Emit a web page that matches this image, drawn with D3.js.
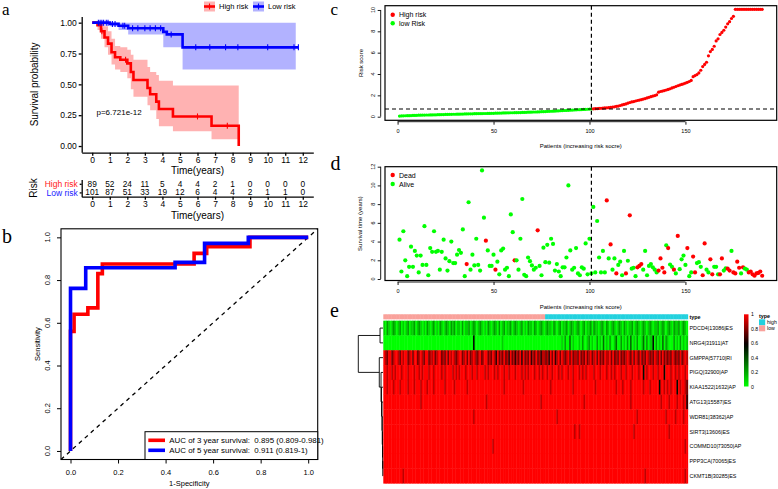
<!DOCTYPE html>
<html><head><meta charset="utf-8">
<script src="https://cdn.jsdelivr.net/npm/d3@7/dist/d3.min.js"></script>
<style>html,body{margin:0;padding:0;background:#fff;} svg{display:block;}</style>
</head><body>
<script>
// ================= DATA =================
// Panel a: Kaplan-Meier (step points)
const highTime  = [0,0.3,0.5,0.7,0.9,1.1,1.3,1.6,2.0,2.2,2.35,3.15,3.3,3.65,3.8,4.6,6.8,8.35];
const highSurv  = [1,0.98,0.93,0.88,0.83,0.76,0.72,0.70,0.67,0.60,0.535,0.47,0.42,0.36,0.30,0.24,0.165,0];
const highLower = [1,0.94,0.87,0.80,0.74,0.66,0.62,0.60,0.55,0.46,0.40,0.33,0.29,0.22,0.16,0.12,0.055,0.055];
const highUpper = [1,1,1,0.97,0.93,0.87,0.81,0.80,0.78,0.74,0.70,0.64,0.60,0.575,0.53,0.49,0.49,0.49];
const lowTime   = [0,1.0,1.5,2.05,4.05,4.25,5.15,11.75];
const lowSurv   = [1,0.99,0.975,0.955,0.925,0.905,0.80,0.80];
const lowLower  = [1,0.97,0.94,0.905,0.80,0.80,0.62,0.62];
const lowUpper  = [1,1,1,1,1,1,1,1];
const lowBandEnd = 11.6;
const highCensor = [0.55,1.9,6.0,7.7];
const lowCensor  = [0.35,0.45,0.55,0.65,0.8,0.9,1.15,1.3,1.75,1.85,2.3,2.6,3.0,3.3,3.6,3.9,4.5,5.9,6.7,7.6,8.3,10.0,11.5,11.75];
const pValueText = "p=6.721e-12";
const timeTicks  = [0,1,2,3,4,5,6,7,8,9,10,11,12];
const highAtRisk = [89,52,24,11,5,4,4,2,1,0,0,0,0];
const lowAtRisk  = [101,87,51,33,19,12,6,4,4,2,1,1,0];

// Panel b: ROC
const roc3FPR = [0,0,0.015,0.015,0.073,0.073,0.115,0.115,0.134,0.134,0.52,0.52,0.573,0.573,0.755,0.755,1];
const roc3TPR = [0,0.56,0.56,0.64,0.64,0.67,0.67,0.83,0.83,0.875,0.875,0.925,0.925,0.956,0.956,1,1];
const roc5FPR = [0,0,0.064,0.064,0.44,0.44,0.564,0.564,0.748,0.748,1];
const roc5TPR = [0,0.761,0.761,0.858,0.858,0.883,0.883,0.972,0.972,1,1];
const rocLabels = ["AUC of 3 year survival:  0.895 (0.809-0.981)","AUC of 5 year survival:  0.911 (0.819-1)"];
const rocTicks = [0,0.2,0.4,0.6,0.8,1.0];

// Panel c: risk scores (sorted)
const riskLowScore = [0.06,0.07,0.08,0.09,0.10,0.10,0.11,0.12,0.12,0.13,
 0.14,0.14,0.15,0.15,0.16,0.16,0.17,0.17,0.18,0.18,
 0.19,0.19,0.20,0.20,0.21,0.21,0.22,0.22,0.23,0.23,
 0.24,0.24,0.25,0.25,0.26,0.26,0.27,0.27,0.27,0.28,
 0.28,0.29,0.29,0.29,0.30,0.30,0.31,0.31,0.32,0.32,
 0.33,0.33,0.34,0.34,0.35,0.35,0.36,0.36,0.37,0.37,
 0.38,0.38,0.39,0.39,0.40,0.40,0.41,0.42,0.42,0.43,
 0.44,0.44,0.45,0.46,0.47,0.47,0.48,0.49,0.50,0.51,
 0.52,0.53,0.54,0.55,0.56,0.57,0.58,0.59,0.60,0.61,
 0.62,0.63,0.64,0.65,0.66,0.67,0.68,0.69,0.70,0.71,0.72];
const riskHighScore = [0.74,0.75,0.76,0.78,0.79,0.80,0.82,0.83,0.85,0.87,
 0.90,0.93,0.97,1.00,1.05,1.10,1.15,1.20,1.27,1.33,
 1.38,1.42,1.47,1.52,1.56,1.60,1.65,1.70,1.76,1.82,
 1.88,1.93,1.98,2.05,2.30,2.36,2.40,2.45,2.50,2.56,
 2.62,2.70,2.76,2.83,2.90,2.96,3.02,3.08,3.15,3.22,
 3.30,3.40,3.75,3.85,3.95,4.10,4.35,4.70,4.90,5.10,
 5.70,6.10,6.30,6.60,7.10,7.30,7.70,7.90,8.10,8.40,
 8.70,8.90,9.20,9.40,10.06,10.06,10.06,10.06,10.06,10.06,
 10.06,10.06,10.06,10.06,10.06,10.06,10.06,10.06,10.06];
const riskCutoff = 0.72;
const patientTicks = [0,50,100,150];

// Panel d: survival time and status (1 = dead)
const survTime = [4.2,0.8,5.1,2.0,0.3,1.3,3.45,1.3,3.0,2.5,
 0.7,2.5,1.5,5.65,1.5,0.4,3.3,2.9,5.1,2.9,
 3.0,1.0,2.9,4.2,2.2,0.9,1.9,4.0,1.7,1.7,
 2.6,3.1,2.8,5.3,0.3,1.6,8.2,1.0,2.6,1.45,
 4.3,1.5,0.9,11.6,6.55,4.1,3.05,1.4,1.4,2.6,
 1.0,1.85,0.5,3.05,3.25,1.0,1.2,0.3,6.9,5.0,
 2.0,2.0,1.0,4.3,8.55,0.45,0.3,2.3,1.9,1.45,
 1.0,1.2,5.2,1.4,0.4,3.35,1.8,3.65,1.75,4.3,
 3.75,0.9,1.6,0.8,0.3,1.25,1.25,2.3,10.0,3.05,
 1.0,1.2,3.3,0.6,0.4,1.25,1.1,3.8,0.5,4.3,
 0.6,7.7,0.7,6.2,2.3,0.7,3.0,0.7,8.4,2.2,
 3.7,1.0,2.2,0.6,1.5,1.85,0.4,3.0,0.6,1.95,
 6.8,1.1,1.2,0.3,1.25,1.4,1.6,1.0,3.0,0.4,
 1.4,1.6,1.25,1.0,0.7,0.9,2.2,1.2,0.7,3.6,
 3.3,1.55,1.3,1.0,0.6,4.6,1.05,2.1,2.5,1.5,
 3.3,0.3,0.7,2.4,0.7,1.7,1.8,1.3,0.4,3.8,
 1.0,0.7,2.1,0.5,1.3,1.3,0.5,0.5,2.2,0.9,
 1.15,1.1,0.9,3.0,0.7,0.6,1.85,1.2,0.6,1.25,
 1.1,1.0,0.7,0.8,0.5,0.35,0.6,0.65,0.8,0.35];
const survStatus = [0,0,0,0,0,0,0,0,0,0, 0,0,0,0,0,0,0,0,0,0, 0,0,0,0,0,0,0,0,0,0,
 0,0,0,0,0,1,0,0,0,0, 0,0,0,0,0,1,0,0,0,0, 1,0,0,0,0,0,0,0,0,0,
 1,0,0,0,0,0,0,0,0,0, 0,0,1,0,0,0,0,0,0,0, 0,0,0,0,0,0,0,0,0,0,
 0,0,0,0,0,0,0,0,0,0, 0,0,0,0,0,0,0,0,1,0, 1,0,0,1,0,0,0,0,1,0,
 1,0,0,0,1,1,1,0,0,0, 0,0,0,0,0,1,1,1,1,0, 1,0,0,1,0,1,0,0,0,0,
 1,0,0,1,1,0,0,0,1,1, 0,0,1,1,0,0,0,1,1,0, 0,1,1,0,1,1,1,1,0,1,
 0,0,1,1,1,1,1,1,1,1];
const survTicks = [0,2,4,6,8,10,12];

// Panel e: heatmap (digit d -> value d/9), columns ordered by risk score
const geneNames = ["PDCD4|13086|ES","NRG4|31911|AT","GMPPA|57710|RI","PIGQ|32900|AP","KIAA1522|1632|AP","ATG13|15587|ES","WDR81|38362|AP","SIRT3|13606|ES","COMMD10|73050|AP","PPP3CA|70065|ES","CKMT1B|30285|ES"];
const heatRows = [
 ["1021012101","2010120112","0121010210","1201021012","1021201102","0112012101","2101021012","1020120112","0121012010","2110210121","0121102101","2011201210","1210120112","0211012102","1012101210","2101120121","0121012101","1201210121","0211201210"],
 ["0000000000","0000000000","0000000000","0000000000","0000000000","0000005000","0000000000","0000100000","0000000000","0000000000","0000000000","0102003010","0010200120","1002010301","0200130020","1020301020","0130201150","2010302100","0201020101"],
 ["9879978998","7989978979","9789879978","8978997879","7989878997","8979789878","9789978798","6978797869","7868796978","7968797868","8786979689","7987897978","8797879789","7897978798","8979787978","7898797987","9787987879","8797978787","9878797898"],
 ["9989989899","9899989998","9989899989","9899998989","9998989899","9899989989","9998989998","9899989989","9989998989","8999899898","9989989998","9899989989","9989898999","9899989998","9989899989","9899989998","9959899989","9899959998","9989899989"],
 ["9989998999","8999989998","9998999899","9899999989","9999899999","9989999999","9999999999","9999989999","9999999899","9999999999","9999899999","9999999989","9999999999","9989999999","9999989998","9999899999","9989998999","9959989898","9995989987"],
 ["9999999999","9999999999","9998999999","9999999999","9999999999","9999999999","9999899999","9999999999","9999999999","9999999989","9999999999","9999999999","9999989999","9999999999","9999999999","9999899999","9999999999","9998999989","9998999896"],
 ["9999999999","9999999999","9999999999","9999999999","9999999999","9999998999","9999999999","9999999999","9999999999","9999999999","9999999989","9999999999","9999999999","9999999999","9999999999","9999999989","9999999999","9999998999","9989999899"],
 ["9999999999","9999999999","9999999999","9999999999","9999999999","9999999999","9999999999","9999999999","9999999999","9999999999","9999999999","9999999998","9989999999","9999999999","9999999999","9999998999","9999999999","9999999989","9999999999"],
 ["9999999999","9999999999","9999999999","9999999999","9999999999","9999999999","9999999989","9999999999","9999999999","9999999999","9999999999","9999999999","9999999999","9999999999","9999999999","9999999999","9999999999","9999999999","9999999989"],
 ["9999999999","9999999999","9999999999","9999999999","9999999999","9999999999","9999999999","9999999999","9999999999","9999999999","9999999999","9999999999","9999999999","9999999999","9999999999","9999999999","9999999999","9999999999","9999999999"],
 ["9999999999","9989999999","9999999999","9999999999","9999999999","9999999999","9999999999","9999999999","9999999999","9999999999","9999999999","9999999999","9999999999","9999999999","9999999999","9999999999","9998999999","9999999999","9999999989"]
];
// hclust-style merges: [a, b, height]; negative = leaf (1-based row), positive = earlier merge
const dendroMerges = [[-10,-11,0.01],[-9,1,0.015],[-8,2,0.02],[-7,3,0.03],[-6,4,0.04],[-5,5,0.06],[-4,6,0.08],[-3,7,0.15],[-1,-2,0.12],[9,8,1.0]];
const legendTicks = [0,0.2,0.4,0.6,0.8,1];
const typeLevels = ["high","low"];
const typeColors = ["#22D1DE","#F9A19B"];

// ================= DRAW =================
const SANS = '"Liberation Sans", Arial, Helvetica, sans-serif';
const SERIF = '"Liberation Serif", "Times New Roman", serif';
const svg = d3.select("body").append("svg").attr("width",778).attr("height",489).attr("font-family",SANS);
const RED="#ff0000", BLUE="#0000ff", GREEN="#00ff00";

function label(x,y,s,o={}){
  const t = svg.append("text").attr("x",x).attr("y",y).text(s)
    .attr("font-size",o.size||8).attr("text-anchor",o.anchor||"middle")
    .attr("fill",o.color||"#000").attr("font-weight",o.weight||"normal")
    .attr("font-family",o.family||SANS).attr("dominant-baseline",o.baseline||"central");
  if (o.rotate) t.attr("transform",`rotate(${o.rotate},${x},${y})`);
  if (o.space) t.attr("xml:space","preserve").style("white-space","pre");
  return t;
}
function styleAxis(g,fs,sw){
  g.attr("font-size",fs).attr("font-family",SANS);
  g.selectAll("path,line").attr("stroke","#000").attr("stroke-width",sw||1);
  g.selectAll("text").attr("fill","#000");
}

// panel letters
label(2,15.4,"a",{size:17,anchor:"start",family:SERIF,baseline:"auto"});
label(2,243.3,"b",{size:20,anchor:"start",family:SERIF,baseline:"auto"});
label(330.5,15.4,"c",{size:17,anchor:"start",family:SERIF,baseline:"auto"});
label(330.5,170,"d",{size:20,anchor:"start",family:SERIF,baseline:"auto"});
label(330,316.7,"e",{size:20,anchor:"start",family:SERIF,baseline:"auto"});

// ---------- Panel a ----------
const aX = d3.scaleLinear().domain([-0.6,12.6]).range([81.7,313.3]);
const aY = d3.scaleLinear().domain([-0.05,1.05]).range([152.2,16.5]);
const bandArea = d3.area().curve(d3.curveStepAfter).x(d=>aX(d[0])).y0(d=>aY(d[1])).y1(d=>aY(d[2]));
const stepLine = d3.line().curve(d3.curveStepAfter).x(d=>aX(d[0])).y(d=>aY(d[1]));
const hiBand = highTime.map((t,i)=>[t,highLower[i],highUpper[i]]);
const loBand = lowTime.map((t,i)=>[i===lowTime.length-1?lowBandEnd:t,lowLower[i],lowUpper[i]]);
svg.append("path").attr("d",bandArea(hiBand)).attr("fill",RED).attr("fill-opacity",0.3);
svg.append("path").attr("d",bandArea(loBand)).attr("fill",BLUE).attr("fill-opacity",0.3);
function survAt(times,vals,t){let v=vals[0];for(let i=0;i<times.length;i++){if(times[i]<=t)v=vals[i];}return v;}
svg.append("path").attr("d",stepLine(highTime.map((t,i)=>[t,highSurv[i]]))).attr("fill","none").attr("stroke",RED).attr("stroke-width",2.6);
svg.append("path").attr("d",stepLine(lowTime.map((t,i)=>[t,lowSurv[i]]))).attr("fill","none").attr("stroke",BLUE).attr("stroke-width",2.6);
[[highCensor,highTime,highSurv,RED],[lowCensor,lowTime,lowSurv,BLUE]].forEach(([cs,tt,ss,col])=>{
  svg.append("g").selectAll("line").data(cs).join("line")
    .attr("x1",d=>aX(d)).attr("x2",d=>aX(d))
    .attr("y1",d=>aY(survAt(tt,ss,d))-3).attr("y2",d=>aY(survAt(tt,ss,d))+3)
    .attr("stroke",col).attr("stroke-width",1.1);
});
const axA = svg.append("g").attr("transform","translate(0,152.7)")
  .call(d3.axisBottom(aX).tickValues(timeTicks).tickFormat(d3.format("d")).tickSize(3).tickSizeOuter(0).tickPadding(1.5));
styleAxis(axA,8.5,1.3);
const ayA = svg.append("g").attr("transform","translate(81.7,0)")
  .call(d3.axisLeft(aY).tickValues([0,0.25,0.5,0.75,1]).tickFormat(d3.format(".2f")).tickSize(3).tickSizeOuter(0).tickPadding(2));
styleAxis(ayA,8.5,1.3);
label(197.5,170,"Time(years)",{size:10});
label(35,84.4,"Survival probability",{size:10,rotate:-90});
label(96.5,112.7,pValueText,{size:8,anchor:"start"});
// legend
[[RED,"High risk",204],[BLUE,"Low risk",253]].forEach(([col,txt,x0])=>{
  svg.append("rect").attr("x",x0).attr("y",1.5).attr("width",11).attr("height",10).attr("fill",col).attr("fill-opacity",0.3);
  svg.append("line").attr("x1",x0).attr("x2",x0+11).attr("y1",6.5).attr("y2",6.5).attr("stroke",col).attr("stroke-width",2.6);
  svg.append("line").attr("x1",x0+5.5).attr("x2",x0+5.5).attr("y1",3.5).attr("y2",9.5).attr("stroke",col).attr("stroke-width",1.1);
  label(x0+15,6.5,txt,{size:7.5,anchor:"start"});
});

// risk table
const rRow = d3.scalePoint().domain(["High risk","Low risk"]).range([179.5,196.7]).padding(0.5);
[[highAtRisk,"High risk"],[lowAtRisk,"Low risk"]].forEach(([arr,k])=>{
  svg.append("g").selectAll("text").data(arr).join("text")
    .attr("x",(d,i)=>aX(timeTicks[i])).attr("y",rRow(k)).text(d=>d)
    .attr("font-size",8.3).attr("text-anchor","middle").attr("dominant-baseline","central");
});
const rtX = svg.append("g").attr("transform","translate(0,196.7)")
  .call(d3.axisBottom(aX).tickValues(timeTicks).tickFormat(d3.format("d")).tickSize(3).tickSizeOuter(0).tickPadding(1.5));
styleAxis(rtX,8.5,1.3);
const rtY = svg.append("g").attr("transform","translate(81.7,0)")
  .call(d3.axisLeft(rRow).tickSize(2).tickSizeOuter(0).tickPadding(2));
styleAxis(rtY,8.5,1.3);
rtY.selectAll(".tick text").attr("fill",d=>d==="High risk"?"#ff2020":"#2020ff");
label(197.5,215.7,"Time(years)",{size:10});
label(33.3,188,"Risk",{size:10,rotate:-90});

// ---------- Panel b ----------
const bX = d3.scaleLinear().domain([-0.04,1.04]).range([61,317.7]);
const bY = d3.scaleLinear().domain([-0.04,1.04]).range([459.5,228.8]);
svg.append("line").attr("x1",bX(-0.04)).attr("y1",bY(-0.04)).attr("x2",bX(1.04)).attr("y2",bY(1.04))
  .attr("stroke","#000").attr("stroke-width",1.3).attr("stroke-dasharray","4,4");
const rocLine = d3.line().x(d=>bX(d[0])).y(d=>bY(d[1]));
svg.append("path").attr("d",rocLine(roc3FPR.map((f,i)=>[f,roc3TPR[i]]))).attr("fill","none").attr("stroke",RED).attr("stroke-width",3.6);
svg.append("path").attr("d",rocLine(roc5FPR.map((f,i)=>[f,roc5TPR[i]]))).attr("fill","none").attr("stroke",BLUE).attr("stroke-width",3.6);
svg.append("rect").attr("x",61).attr("y",228.8).attr("width",256.7).attr("height",230.7).attr("fill","none").attr("stroke","#000").attr("stroke-width",1.1);
const bxA = svg.append("g").attr("transform","translate(0,459.5)")
  .call(d3.axisBottom(bX).tickValues(rocTicks).tickFormat(d3.format(".1f")).tickSize(4).tickSizeOuter(0).tickPadding(6));
styleAxis(bxA,7.5,1); bxA.select(".domain").remove();
svg.append("line").attr("x1",bX(0)).attr("x2",bX(1)).attr("y1",459.5).attr("y2",459.5).attr("stroke","#000");
const byA = svg.append("g").attr("transform","translate(61,0)")
  .call(d3.axisLeft(bY).tickValues(rocTicks).tickFormat("").tickSize(4).tickSizeOuter(0));
styleAxis(byA,7.5,1); byA.select(".domain").remove();
svg.append("g").selectAll("text").data(rocTicks).join("text")
  .attr("x",48).attr("y",d=>bY(d)).attr("transform",d=>`rotate(-90,48,${bY(d)})`)
  .attr("text-anchor","middle").attr("dominant-baseline","central").attr("font-size",7.5).text(d3.format(".1f"));
label(189.3,483,"1-Specificity",{size:7.5});
label(37,344,"Sensitivity",{size:7.5,rotate:-90});
svg.append("rect").attr("x",145).attr("y",431.7).attr("width",172.7).attr("height",27.8).attr("fill","#fff").attr("stroke","#000").attr("stroke-width",1);
[[RED,rocLabels[0],440.3],[BLUE,rocLabels[1],450.3]].forEach(([col,txt,y])=>{
  svg.append("line").attr("x1",148.3).attr("x2",165).attr("y1",y).attr("y2",y).attr("stroke",col).attr("stroke-width",3.6);
  label(169.3,y,txt,{size:7.9,anchor:"start",space:true});
});

// ---------- Panel c ----------
const nPat = riskLowScore.length + riskHighScore.length;
const pX = d3.scaleLinear().domain([-6.56,197.56]).range([385,776.7]);
const cY = d3.scaleLinear().domain([-0.337,10.40]).range([120.3,5.7]);
const riskPts = riskLowScore.map((v,i)=>({p:i+1,v,c:GREEN})).concat(riskHighScore.map((v,i)=>({p:riskLowScore.length+i+1,v,c:RED})));
svg.append("g").selectAll("circle").data(riskPts).join("circle")
  .attr("cx",d=>pX(d.p)).attr("cy",d=>cY(d.v)).attr("r",1.6).attr("fill",d=>d.c);
svg.append("line").attr("x1",385).attr("x2",776.7).attr("y1",cY(riskCutoff)).attr("y2",cY(riskCutoff)).attr("stroke","#000").attr("stroke-width",1.2).attr("stroke-dasharray","4,3");
svg.append("line").attr("x1",pX(riskLowScore.length)).attr("x2",pX(riskLowScore.length)).attr("y1",5.7).attr("y2",120.3).attr("stroke","#000").attr("stroke-width",1.2).attr("stroke-dasharray","4,3");
svg.append("rect").attr("x",385).attr("y",5.7).attr("width",391.7).attr("height",114.6).attr("fill","none").attr("stroke","#000").attr("stroke-width",1.2);
function patientAxis(y0){
  const g = svg.append("g").attr("transform",`translate(0,${y0})`)
    .call(d3.axisBottom(pX).tickValues(patientTicks).tickSize(3).tickSizeOuter(0).tickPadding(4.5));
  styleAxis(g,5.5,0.9); g.select(".domain").remove();
  svg.append("line").attr("x1",pX(patientTicks[0])).attr("x2",pX(patientTicks[patientTicks.length-1])).attr("y1",y0).attr("y2",y0).attr("stroke","#000").attr("stroke-width",0.9);
}
function valueAxis(scale,ticks){
  const g = svg.append("g").attr("transform","translate(380.7,0)")
    .call(d3.axisLeft(scale).tickValues(ticks).tickFormat("").tickSize(3).tickSizeOuter(0));
  styleAxis(g,5.5,0.9); g.select(".domain").remove();
  svg.append("line").attr("x1",380.7).attr("x2",380.7).attr("y1",scale(ticks[0])).attr("y2",scale(ticks[ticks.length-1])).attr("stroke","#000").attr("stroke-width",0.9);
  svg.append("g").selectAll("text").data(ticks).join("text")
    .attr("x",373.5).attr("y",d=>scale(d)).attr("transform",d=>`rotate(-90,373.5,${scale(d)})`)
    .attr("text-anchor","middle").attr("dominant-baseline","central").attr("font-size",5.5).text(d=>d);
}
patientAxis(121.7);
valueAxis(cY,[0,2,4,6,8,10]);
label(360.5,63,"Risk score",{size:6,rotate:-90});
label(580.8,146,"Patients (increasing risk socre)",{size:6});
[[RED,"High risk",14.7],[GREEN,"low Risk",23.3]].forEach(([col,txt,y])=>{
  svg.append("circle").attr("cx",392.7).attr("cy",y).attr("r",2.2).attr("fill",col);
  label(399,y,txt,{size:7,anchor:"start"});
});

// ---------- Panel d ----------
const dY = d3.scaleLinear().domain([-0.16,12.0]).range([280.5,166.7]);
const survPts = survTime.map((v,i)=>({p:i+1,v,c:survStatus[i]===1?RED:GREEN}));
svg.append("g").selectAll("circle").data(survPts).join("circle")
  .attr("cx",d=>pX(d.p)).attr("cy",d=>dY(d.v)).attr("r",2.1).attr("fill",d=>d.c);
svg.append("line").attr("x1",pX(riskLowScore.length)).attr("x2",pX(riskLowScore.length)).attr("y1",166.7).attr("y2",280.5).attr("stroke","#000").attr("stroke-width",1.2).attr("stroke-dasharray","4,3");
svg.append("rect").attr("x",385).attr("y",166.7).attr("width",391.7).attr("height",113.8).attr("fill","none").attr("stroke","#000").attr("stroke-width",1.2);
patientAxis(282);
valueAxis(dY,survTicks);
label(360.5,223.6,"Survival time (years)",{size:6,rotate:-90});
label(580.8,306.7,"Patients (increasing risk score)",{size:6});
[[RED,"Dead",175],[GREEN,"Alive",184]].forEach(([col,txt,y])=>{
  svg.append("circle").attr("cx",392.7).attr("cy",y).attr("r",2.2).attr("fill",col);
  label(399,y,txt,{size:7,anchor:"start"});
});

// ---------- Panel e ----------
const heatColor = d3.scaleLinear().domain([0,0.58,1]).range([GREEN,"#000000",RED]);
const eCol = d3.scaleBand().domain(d3.range(nPat)).range([383.3,687.7]);
const eRow = d3.scaleBand().domain(geneNames).range([320.7,483.3]);
const cells = [];
heatRows.forEach((chunks,r)=>{
  const s = chunks.join("");
  for (let c=0;c<nPat;c++) cells.push({g:geneNames[r],c,v:(+s[c])/9});
});
svg.append("g").selectAll("rect").data(cells).join("rect")
  .attr("x",d=>eCol(d.c)).attr("y",d=>eRow(d.g)).attr("width",eCol.bandwidth()+0.45).attr("height",eRow.bandwidth()+0.3)
  .attr("fill",d=>heatColor(d.v));
const typeColor = d3.scaleOrdinal().domain(typeLevels).range(typeColors);
svg.append("g").selectAll("rect").data(d3.range(nPat)).join("rect")
  .attr("x",d=>eCol(d)).attr("y",314.3).attr("width",eCol.bandwidth()+0.45).attr("height",5)
  .attr("fill",d=>typeColor(d<riskLowScore.length?"low":"high"));
svg.append("g").selectAll("text").data(geneNames).join("text")
  .attr("x",689.5).attr("y",d=>eRow(d)+eRow.bandwidth()/2).attr("dominant-baseline","central")
  .attr("font-size",5.4).text(d=>d);
label(689.5,317,"type",{size:5.4,anchor:"start",weight:"bold"});
// dendrogram
const dX = d3.scaleLinear().domain([0,1]).range([383,358.3]);
const dnodes = [];
const dpos = ref => ref<0 ? {y:eRow(geneNames[-ref-1])+eRow.bandwidth()/2,h:0} : dnodes[ref-1];
const dg = svg.append("g");
dendroMerges.forEach(([a,b,h])=>{
  const A=dpos(a), B=dpos(b);
  dnodes.push({y:(A.y+B.y)/2,h});
  dg.append("path").attr("d",`M${dX(A.h)},${A.y}H${dX(h)}V${B.y}H${dX(B.h)}`)
    .attr("fill","none").attr("stroke","#000").attr("stroke-width",0.9);
});
// colour legend
const lgY = d3.scaleLinear().domain([0,1]).range([386.5,314.3]);
const grad = svg.append("defs").append("linearGradient").attr("id","hg").attr("x1",0).attr("y1",1).attr("x2",0).attr("y2",0);
d3.range(0,1.0001,0.05).forEach(v=>grad.append("stop").attr("offset",v).attr("stop-color",heatColor(v)));
svg.append("rect").attr("x",744).attr("y",lgY(1)).attr("width",4.5).attr("height",lgY(0)-lgY(1)).attr("fill","url(#hg)");
svg.append("g").selectAll("text").data(legendTicks).join("text")
  .attr("x",751).attr("y",d=>lgY(d)).attr("dominant-baseline","central").attr("font-size",5.2).text(d=>d);
label(759,315.7,"type",{size:5.4,anchor:"start",weight:"bold"});
typeLevels.forEach((t,i)=>{
  svg.append("rect").attr("x",759).attr("y",319.3+i*6).attr("width",6.2).attr("height",6).attr("fill",typeColor(t));
  label(767,322.3+i*6,t,{size:5.2,anchor:"start"});
});
</script>
</body></html>
